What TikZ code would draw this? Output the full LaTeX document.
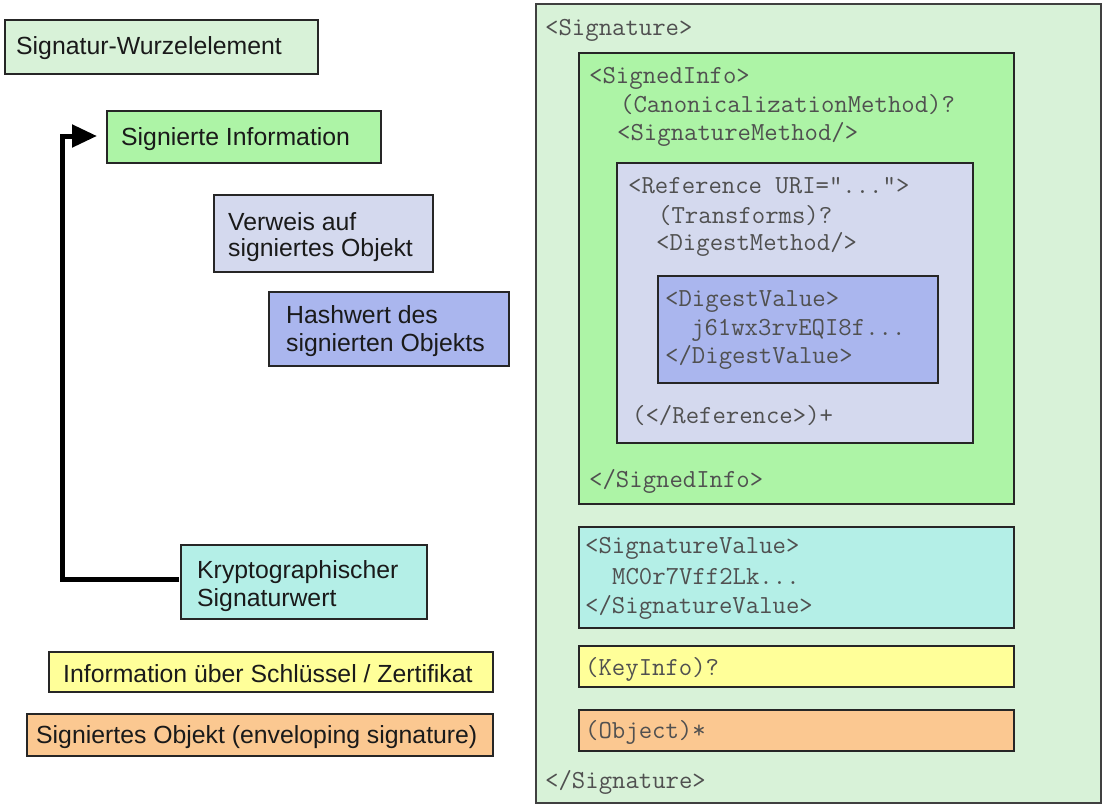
\documentclass[tikz,border=0pt]{standalone}
\usepackage{fontspec}
\newfontfamily\arialf{Liberation Sans}
\usetikzlibrary{arrows.meta}
\definecolor{cRoot}{HTML}{D8F2D8}
\definecolor{cSInfo}{HTML}{ADF4A6}
\definecolor{cRef}{HTML}{D4D9EE}
\definecolor{cDig}{HTML}{AAB6EE}
\definecolor{cSVal}{HTML}{B4EFE7}
\definecolor{cKey}{HTML}{FFFF99}
\definecolor{cObj}{HTML}{FBC891}
\definecolor{cMono}{HTML}{505050}
\definecolor{cSans}{HTML}{1A1A1A}
\tikzset{
  box/.style={draw=black!85, line width=1.6pt, inner sep=0pt, outer sep=0pt},
  lbl/.style={anchor=base west, inner sep=0pt, text=cSans, font=\arialf\fontsize{24.8}{28}\selectfont},
  code/.style={anchor=base west, inner sep=0pt, text=cMono, font=\ttfamily\fontsize{26}{28}\selectfont},
  thickarrow/.style={line width=5pt, line join=miter, -{Triangle[length=25pt,width=22pt]}}
}
\begin{document}
\begin{tikzpicture}[x=1pt,y=-1pt]
\useasboundingbox (0,0) rectangle (1104,804);
% ---------- right side: XML structure ----------
\node[box, draw=black!75, fill=cRoot, minimum width=565pt, minimum height=799pt] (sig) at (818.5,403.5) {};
\node[box, fill=cSInfo, minimum width=435pt, minimum height=451pt] (signedinfo) at (796.5,278.5) {};
\node[box, fill=cRef, minimum width=356pt, minimum height=280pt] (ref) at (795,303) {};
\node[box, fill=cDig, minimum width=280pt, minimum height=107pt] (digest) at (798,329.5) {};
\node[box, fill=cSVal, minimum width=435pt, minimum height=101pt] (sigval) at (796.5,577.5) {};
\node[box, fill=cKey, minimum width=435pt, minimum height=41pt] (keyinfo) at (796.5,666.5) {};
\node[box, fill=cObj, minimum width=435pt, minimum height=41pt] (object) at (796.5,730.5) {};

\node[code] (t1) at (545,35) {<Signature>};
\node[code] (t2) at (589,83) {<SignedInfo>};
\node[code] (t3) at (620,112) {(CanonicalizationMethod)?};
\node[code] (t4) at (617,140) {<SignatureMethod/>};
\node[code] (t5) at (628,193) {<Reference URI=”...”>};
\node[code] (t6) at (658,223) {(Transforms)?};
\node[code] (t7) at (656,250) {<DigestMethod/>};
\node[code] (t8) at (665,306) {<DigestValue>};
\node[code] (t9) at (691,335) {j61wx3rvEQI8f...};
\node[code] (t10) at (665,363) {</DigestValue>};
\node[code] (t11) at (632,423) {(</Reference>)+};
\node[code] (t12) at (589,487) {</SignedInfo>};
\node[code] (t13) at (585,553) {<SignatureValue>};
\node[code] (t14) at (612,584) {MC0r7Vff2Lk...};
\node[code] (t15) at (585,613) {</SignatureValue>};
\node[code] (t16) at (585,675) {(KeyInfo)?};
\node[code] (t17) at (585,738) {(Object)*};
\node[code] (t18) at (545,788) {</Signature>};

% ---------- left side: legend ----------
\node[box, fill=cRoot, minimum width=313pt, minimum height=54pt] (wurzel) at (161.5,47) {};
\node[box, fill=cSInfo, minimum width=274pt, minimum height=52pt] (sinfo) at (244,137) {};
\node[box, fill=cRef, minimum width=219pt, minimum height=77pt] (verweis) at (323.5,233.5) {};
\node[box, fill=cDig, minimum width=240pt, minimum height=74pt] (hash) at (389,329) {};
\node[box, fill=cSVal, minimum width=246pt, minimum height=74pt] (kry) at (304,582) {};
\node[box, fill=cKey, minimum width=444pt, minimum height=40pt] (keylbl) at (271,672) {};
\node[box, fill=cObj, minimum width=466pt, minimum height=42pt] (objlbl) at (260,735) {};

\node[lbl] (l1) at (16,54) {Signatur-Wurzelelement};
\node[lbl] (l2) at (121,145) {Signierte Information};
\node[lbl] (l3a) at (228,230) {Verweis auf};
\node[lbl] (l3b) at (228,256) {signiertes Objekt};
\node[lbl] (l4a) at (286,323) {Hashwert des};
\node[lbl] (l4b) at (286,351) {signierten Objekts};
\node[lbl] (l5a) at (197,578) {Kryptographischer};
\node[lbl] (l5b) at (197,606) {Signaturwert};
\node[lbl] (l6) at (63,682) {Information über Schlüssel / Zertifikat};
\node[lbl] (l7) at (36,743) {Signiertes Objekt (enveloping signature)};

% ---------- connector ----------
\coordinate (c1) at (62.5,579);
\coordinate (c2) at (62.5,136);
\draw[thickarrow] ([xshift=-2pt,yshift=3pt]kry.west) -- (c1) -- (c2) -- ([xshift=-10pt,yshift=1pt]sinfo.west);
\end{tikzpicture}
\end{document}
